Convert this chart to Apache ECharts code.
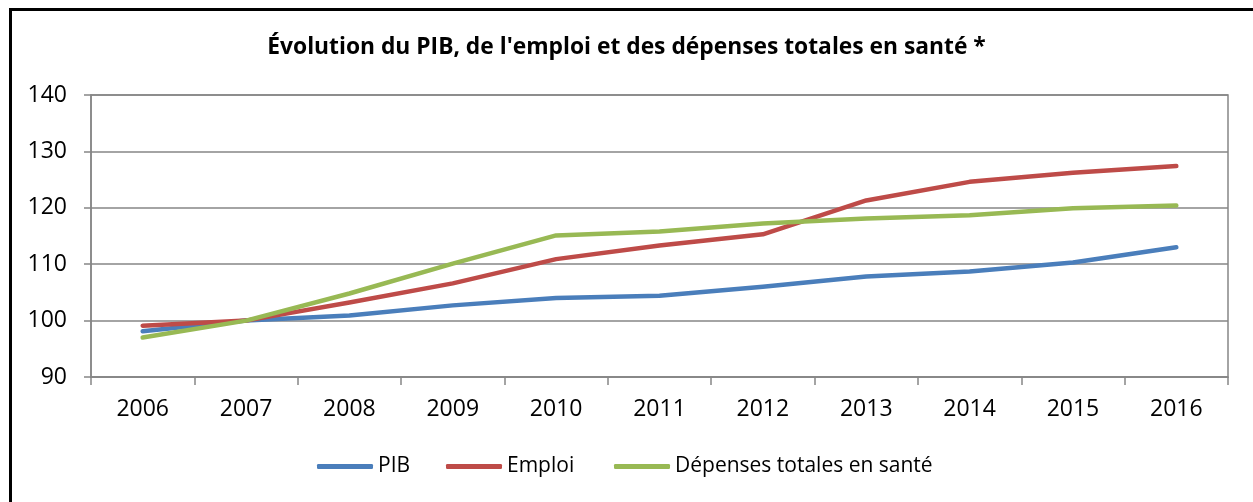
<!DOCTYPE html>
<html>
<head>
<meta charset="utf-8">
<script src="https://cdn.jsdelivr.net/npm/echarts@6/dist/echarts.min.js"></script>
<style>
  html, body { margin: 0; padding: 0; background: #fff; overflow: hidden; }
  .frame {
    position: absolute; left: 9px; top: 8px;
    width: 1300px; height: 600px;
    border: 3px solid #000; box-sizing: border-box;
  }
  #chart { position: absolute; left: 0; top: 0; width: 1253px; height: 502px; }
</style>
</head>
<body>
<div class="frame"></div>
<div id="chart"></div>
<script>
// données (base 100 en 2007)
const years = ['2006', '2007', '2008', '2009', '2010', '2011', '2012', '2013', '2014', '2015', '2016']
const pib = [98.1, 100, 100.9, 102.7, 104.0, 104.4, 106.0, 107.8, 108.7, 110.3, 113.0]
const emploi = [99.1, 100, 103.2, 106.6, 110.9, 113.3, 115.3, 121.3, 124.6, 126.2, 127.4]
const sante = [97.0, 100, 104.8, 110.1, 115.1, 115.8, 117.2, 118.1, 118.7, 119.9, 120.4]
const yTicks = [90, 100, 110, 120, 130, 140]
const names = ['PIB', 'Emploi', 'Dépenses totales en santé']
const colors = ['#4a7ebb', '#be4b48', '#98b954']

const font = '"Open Sans", "Noto Sans", sans-serif'
const chart = echarts.init(document.getElementById('chart'))

const mkSeries = (name, data, color) => ({
  name,
  type: 'line',
  data,
  symbol: 'none',
  smooth: false,
  lineStyle: { width: 4.5, color, cap: 'round', join: 'round' },
  itemStyle: { color }
})

// une légende par série pour caler les positions
const legendLefts = [317, 446, 614]
const legends = names.map((n, i) => ({
  data: [n],
  left: legendLefts[i],
  top: 456,
  padding: 0,
  itemWidth: 56,
  itemHeight: 5,
  icon: 'roundRect',
  textStyle: { fontFamily: font, fontSize: 21, color: '#000' }
}))

chart.setOption({
  animation: false,
  title: {
    text: "Évolution du PIB, de l'emploi et des dépenses totales en santé *",
    left: 'center',
    top: 31,
    textStyle: { fontFamily: font, fontSize: 22.8, fontWeight: 'bold', color: '#000' }
  },
  grid: { left: 91, right: 25, top: 95, bottom: 125, show: true, borderColor: '#868686', borderWidth: 1.5 },
  legend: legends,
  xAxis: {
    type: 'category',
    data: years,
    boundaryGap: true,
    axisLine: { lineStyle: { color: '#868686', width: 1.5 } },
    axisTick: { show: true, length: 8, lineStyle: { color: '#868686', width: 1.5 } },
    axisLabel: { fontFamily: font, fontSize: 23, color: '#000', margin: 21 }
  },
  yAxis: {
    type: 'value',
    min: yTicks[0],
    max: yTicks[yTicks.length - 1],
    interval: 10,
    axisLine: { show: true, lineStyle: { color: '#868686', width: 1.5 } },
    axisTick: { show: true, length: 7, lineStyle: { color: '#868686', width: 1.5 } },
    axisLabel: { fontFamily: font, fontSize: 23, color: '#000', margin: 24 },
    splitLine: { lineStyle: { color: '#868686', width: 1.5 } }
  },
  series: names.map((n, i) => mkSeries(n, [pib, emploi, sante][i], colors[i]))
})
</script>
</body>
</html>
